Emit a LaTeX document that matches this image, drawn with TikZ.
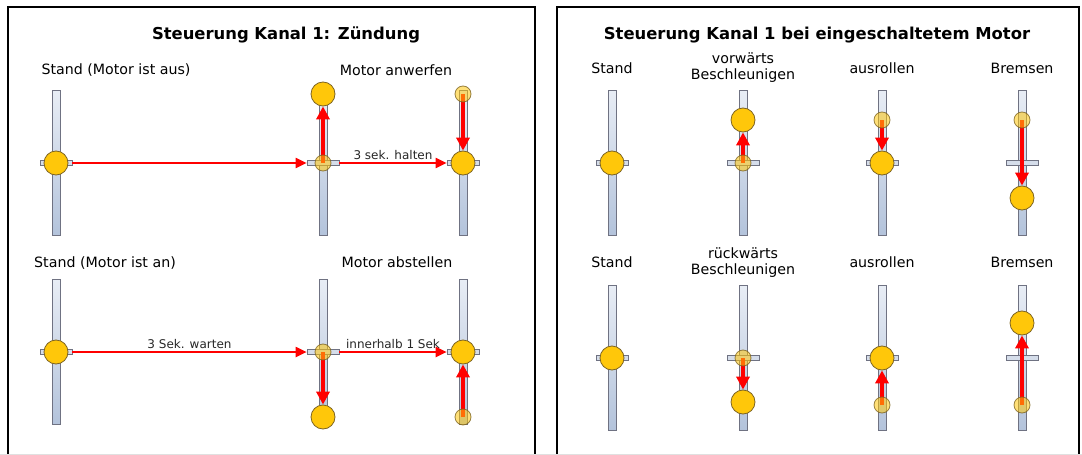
\documentclass[tikz,border=0pt]{standalone}
\usepackage{fontspec}
\setmainfont{DejaVu Sans}
\usetikzlibrary{arrows.meta,positioning}
\definecolor{knobfill}{HTML}{FFC70A}
\definecolor{knobline}{HTML}{7D6422}
\definecolor{railtop}{HTML}{E8EDF5}
\definecolor{railbot}{HTML}{B3C3DB}
\definecolor{railline}{HTML}{6F7282}
\definecolor{tabfill}{HTML}{D5DDEA}

\begin{document}
\begin{tikzpicture}[x=1pt,y=-1pt,
    frame/.style={draw=black, line width=2pt},
    rail/.style={rectangle, draw=railline, line width=0.8pt, top color=railtop, bottom color=railbot, minimum width=8pt, minimum height=145pt, inner sep=0pt},
    tab/.style={rectangle, draw=railline, line width=0.7pt, fill=tabfill, minimum width=32pt, minimum height=5pt, inner sep=0pt},
    knob/.style={circle, draw=knobline, line width=0.8pt, fill=knobfill, minimum size=24pt, inner sep=0pt},
    ghost/.style={circle, draw=knobline, draw opacity=0.8, line width=0.8pt, fill=knobfill, fill opacity=0.55, minimum size=16pt, inner sep=0pt},
    title/.style={font=\bfseries\fontsize{16.4}{19}\selectfont},
    caption/.style={font=\fontsize{14.2}{16}\selectfont, align=center},
    note/.style={font=\fontsize{12}{14}\selectfont, text=black!85, above, inner sep=2pt},
    push/.style={-{Triangle[length=13pt,width=13pt]}, red, line width=3.5pt},
    flow/.style={-{Triangle[length=11pt,width=10pt]}, red, line width=2pt}
]
\useasboundingbox (0,0) rectangle (1082,455);

% left panel: ignition
\draw[frame] (8,7) rectangle (535,470);
\node[title] (titleA) at (286,35) {Steuerung Kanal 1: Zündung};
\node[caption] (capA1) at (116,70) {Stand (Motor ist aus)};
\node[caption] (capA2) at (396,70) {Motor anwerfen};
\node[caption] (capA3) at (105,263) {Stand (Motor ist an)};
\node[caption] (capA4) at (397,262) {Motor abstellen};

\node[rail] (railA11) at (56,163) {};
\node[rail] (railA12) at (323,163) {};
\node[rail] (railA13) at (463,163) {};
\node[tab] (tabA11) at (railA11) {};
\node[tab] (tabA12) at (railA12) {};
\node[tab] (tabA13) at (railA13) {};
\node[knob] (knobA11) at (railA11) {};
\node[knob] (knobA12) at (323,94) {};
\node[knob] (knobA13) at (railA13) {};
\draw[push] (railA12.center) -- (knobA12.south);
\draw[push] (463,94) -- (knobA13.north);
\node[ghost] (ghostA12) at (railA12) {};
\node[ghost] (ghostA13) at (463,94) {};
\draw[flow] (tabA11.east) -- (tabA12.west);
\draw[flow] (tabA12.east) -- node[note] {3 sek. halten} (tabA13.west);

\node[rail] (railA21) at (56,352) {};
\node[rail] (railA22) at (323,352) {};
\node[rail] (railA23) at (463,352) {};
\node[tab] (tabA21) at (railA21) {};
\node[tab] (tabA22) at (railA22) {};
\node[tab] (tabA23) at (railA23) {};
\node[knob] (knobA21) at (railA21) {};
\node[knob] (knobA22) at (323,417) {};
\node[knob] (knobA23) at (railA23) {};
\draw[push] (railA22.center) -- (knobA22.north);
\draw[push] (463,417) -- (knobA23.south);
\node[ghost] (ghostA22) at (railA22) {};
\node[ghost] (ghostA23) at (463,417) {};
\draw[flow] (tabA21.east) -- node[note] {3 Sek. warten} (tabA22.west);
\draw[flow] (tabA22.east) -- node[note] {innerhalb 1 Sek} (tabA23.west);

% right panel: motor running
\draw[frame] (557,7) rectangle (1079,470);
\node[title] (titleB) at (817,35) {Steuerung Kanal 1 bei eingeschaltetem Motor};
\node[caption] (capB11) at (612,68) {Stand};
\node[caption] (capB12) at (743,68) {vorwärts\\Beschleunigen};
\node[caption] (capB13) at (882,68) {ausrollen};
\node[caption] (capB14) at (1022,68) {Bremsen};
\node[caption] (capB21) at (612,262) {Stand};
\node[caption] (capB22) at (743,263) {rückwärts\\Beschleunigen};
\node[caption] (capB23) at (882,262) {ausrollen};
\node[caption] (capB24) at (1022,262) {Bremsen};

\node[rail] (railB11) at (612,163) {};
\node[rail] (railB12) at (743,163) {};
\node[rail] (railB13) at (882,163) {};
\node[rail] (railB14) at (1022,163) {};
\node[tab] (tabB11) at (railB11) {};
\node[tab] (tabB12) at (railB12) {};
\node[tab] (tabB13) at (railB13) {};
\node[tab] (tabB14) at (railB14) {};
\node[knob] (knobB11) at (railB11) {};
\node[knob] (knobB12) at (743,120) {};
\node[knob] (knobB13) at (railB13) {};
\node[knob] (knobB14) at (1022,198) {};
\draw[push] (railB12.center) -- (knobB12.south);
\draw[push] (882,120) -- (knobB13.north);
\draw[push] (1022,120) -- (knobB14.north);
\node[ghost] (ghostB12) at (railB12) {};
\node[ghost] (ghostB13) at (882,120) {};
\node[ghost] (ghostB14) at (1022,120) {};

\node[rail] (railB21) at (612,358) {};
\node[rail] (railB22) at (743,358) {};
\node[rail] (railB23) at (882,358) {};
\node[rail] (railB24) at (1022,358) {};
\node[tab] (tabB21) at (railB21) {};
\node[tab] (tabB22) at (railB22) {};
\node[tab] (tabB23) at (railB23) {};
\node[tab] (tabB24) at (railB24) {};
\node[knob] (knobB21) at (railB21) {};
\node[knob] (knobB22) at (743,402) {};
\node[knob] (knobB23) at (railB23) {};
\node[knob] (knobB24) at (1022,323) {};
\draw[push] (railB22.center) -- (knobB22.north);
\draw[push] (882,405) -- (knobB23.south);
\draw[push] (1022,405) -- (knobB24.south);
\node[ghost] (ghostB22) at (railB22) {};
\node[ghost] (ghostB23) at (882,405) {};
\node[ghost] (ghostB24) at (1022,405) {};

\draw[black!12, line width=1pt] (0,454.5) -- (1082,454.5);
\end{tikzpicture}
\end{document}
